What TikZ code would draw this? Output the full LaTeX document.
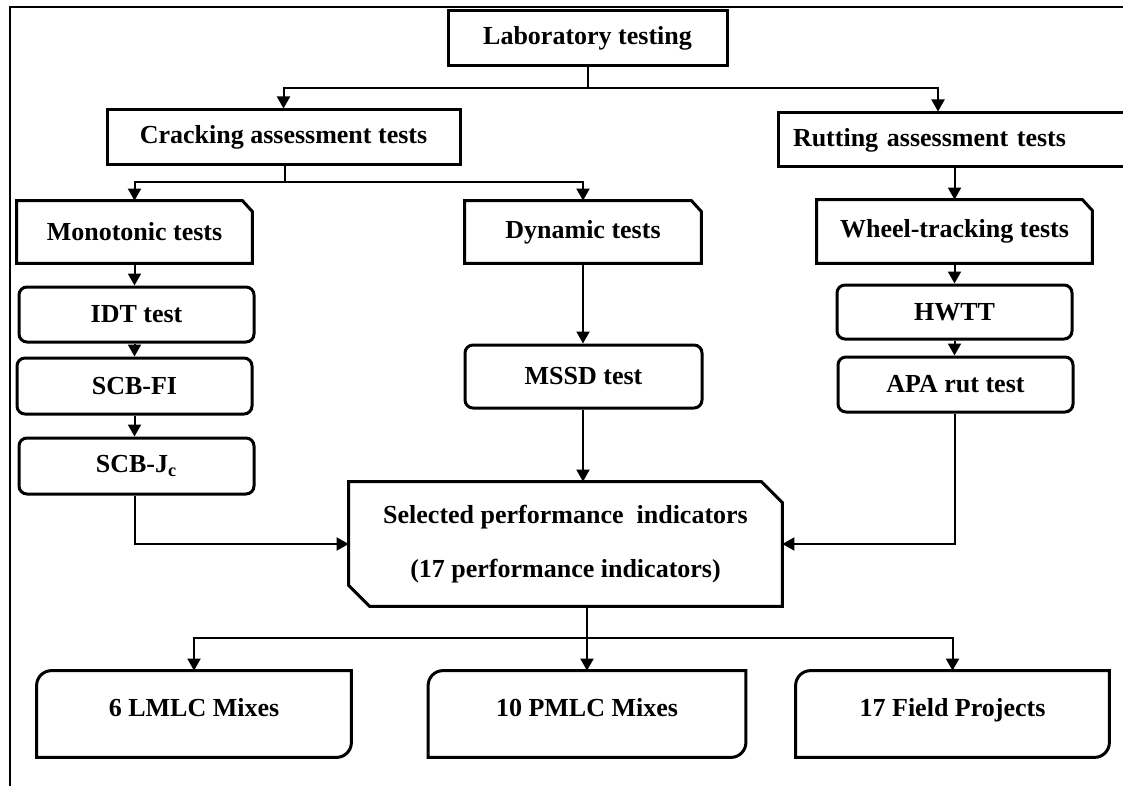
\documentclass[tikz,border=0pt]{standalone}
\usepackage{fontspec}
\setmainfont{Liberation Serif}
\usetikzlibrary{arrows.meta,calc}

\tikzset{
  lbl/.style={font=\bfseries\fontsize{13}{15}\selectfont, inner sep=0pt, align=center},
  sqbox/.style={lbl, draw, line width=1.5pt},
  rbox/.style={lbl, draw, line width=1.5pt, rounded corners=4pt},
  shapeonly/.style={lbl},
  outline/.style={line width=1.5pt, line join=miter},
  link/.style={line width=1pt},
  arr/.style={link, -{Triangle[length=6pt,width=6.5pt]}},
  frameline/.style={line width=0.8pt}
}

\begin{document}
\begin{tikzpicture}[x=0.5pt, y=-0.5pt]
\useasboundingbox (0,0) rectangle (1123,786);

% outer frame (top and left edges)
\draw[frameline] (10,786) -- (10,7) -- (1123,7);

% ---------- top levels ----------
\node[sqbox, minimum width=139.5pt, minimum height=27.5pt] (lab) at (587.5,38.5) {Laboratory testing};
\node[sqbox, minimum width=176.5pt, minimum height=27.5pt] (crack) at (283.5,137.5) {Cracking assessment tests};
\node[sqbox, minimum height=27pt, inner xsep=7.5pt, text width=158pt, align=left] (rut) at (951,140) {Rutting assessment tests};

% ---------- test families (chamfered top-right corner) ----------
\node[shapeonly, minimum width=117.5pt, minimum height=31pt] (mono) at (134.5,232) {Monotonic tests};
\node[shapeonly, minimum width=118pt, minimum height=31pt] (dyn) at (583,232) {Dynamic tests};
\node[shapeonly, minimum width=137.5pt, minimum height=31.5pt] (wheel) at (954.5,231.5) {Wheel-tracking tests};
\foreach \n in {mono,dyn,wheel}{
  \draw[outline] (\n.south west) -- (\n.north west) -- ($(\n.north east)+(-10,0)$)
    -- ($(\n.north east)+(0,11)$) -- (\n.south east) -- cycle;
}

% ---------- individual tests ----------
\node[rbox, minimum width=117.5pt, minimum height=27.5pt] (idt) at (136.5,314.5) {IDT test};
\node[rbox, minimum width=117.5pt, minimum height=28pt] (scbfi) at (134.5,386) {SCB-FI};
\node[rbox, minimum width=117.5pt, minimum height=28pt] (scbjc) at (136.5,466) {SCB-J\textsubscript{c}};
\node[rbox, minimum width=118.5pt, minimum height=31.5pt] (mssd) at (583.5,376.5) {MSSD test};
\node[rbox, minimum width=117.5pt, minimum height=27pt] (hwtt) at (954.5,312) {HWTT};
\node[rbox, minimum width=117.5pt, minimum height=27.5pt] (apa) at (955.5,384.5) {APA rut test};

% ---------- selected indicators (chamfered top-right and bottom-left) ----------
\node[shapeonly, minimum width=216.5pt, minimum height=62pt] (sel) at (565.5,544)
  {Selected performance~ indicators\\[12pt](17 performance indicators)};
\draw[outline] (sel.north west) -- ($(sel.north east)+(-21,0)$) -- ($(sel.north east)+(0,21)$)
  -- (sel.south east) -- ($(sel.south west)+(21,0)$) -- ($(sel.south west)+(0,-21)$) -- cycle;

% ---------- mix groups (rounded top-left and bottom-right) ----------
\node[shapeonly, minimum width=157pt, minimum height=43pt, text depth=7pt] (lmlc) at (194,714) {6 LMLC Mixes};
\node[shapeonly, minimum width=158.5pt, minimum height=43pt, text depth=7pt] (pmlc) at (587,714) {10 PMLC Mixes};
\node[shapeonly, minimum width=156.5pt, minimum height=43pt, text depth=7pt] (field) at (952.5,714) {17 Field Projects};
\foreach \n in {lmlc,pmlc,field}{
  \draw[outline] (\n.north east) -- ($(\n.north west)+(15,0)$)
    .. controls +(-8.3,0) and +(0,-8.3) .. ($(\n.north west)+(0,15)$)
    -- (\n.south west) -- ($(\n.south east)+(-15,0)$)
    .. controls +(8.3,0) and +(0,8.3) .. ($(\n.south east)+(0,-15)$) -- cycle;
}

% ---------- connectors ----------
\coordinate (lk) at (283.5,88);
\coordinate (rk) at (938,88);
\draw[link] (lab.south) -- (lab.south |- lk);
\draw[arr] (lab.south |- lk) -- (lk) -- (crack.north);
\draw[arr] (lab.south |- rk) -- (rk) -- (rk |- rut.north);

\coordinate (cj) at (285,182);
\draw[link] (crack.south -| cj) -- (cj);
\draw[arr] (cj) -| (mono.north);
\draw[arr] (cj) -| (dyn.north);

\draw[arr] (mono.south) -- (mono.south |- idt.north);
\draw[arr] (idt.south -| mono.south) -- (mono.south |- scbfi.north);
\draw[arr] (scbfi.south -| mono.south) -- (mono.south |- scbjc.north);
\draw[arr] (scbjc.south -| mono.south) |- (sel.west);

\draw[arr] (dyn.south) -- (dyn.south |- mssd.north);
\draw[arr] (mssd.south -| dyn.south) -- (dyn.south |- sel.north);

\draw[arr] (wheel.north |- rut.south) -- (wheel.north);
\draw[arr] (wheel.south) -- (wheel.south |- hwtt.north);
\draw[arr] (hwtt.south -| wheel.south) -- (wheel.south |- apa.north);
\draw[arr] (apa.south -| wheel.south) |- (sel.east);

\coordinate (bj) at (587,638);
\draw[link] (sel.south -| bj) -- (bj);
\draw[arr] (bj) -| (lmlc.north);
\draw[arr] (bj) -| (pmlc.north);
\draw[arr] (bj) -| (field.north);
\end{tikzpicture}
\end{document}
